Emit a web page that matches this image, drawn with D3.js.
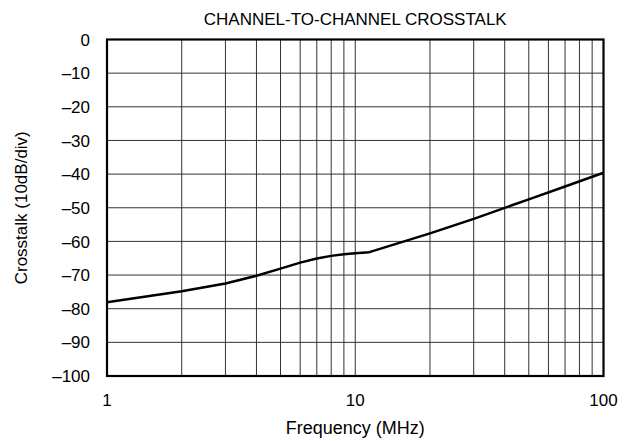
<!DOCTYPE html>
<html><head><meta charset="utf-8">
<script src="https://cdn.jsdelivr.net/npm/d3@7"></script>
<style>
body{margin:0;background:#fff;}
text{font-family:"Liberation Sans",Arial,sans-serif;fill:#000;}
</style></head>
<body><svg id="c" width="635" height="441"></svg>
<script>
const freqs = [1,2,3,4,5,6,7,8,9,10,11.4,20,30,50,70,100];
const crosstalk = [-78.1,-74.8,-72.5,-70.2,-68.1,-66.3,-65.1,-64.3,-63.8,-63.5,-63.2,-57.6,-53.3,-47.5,-43.7,-39.6];
const yTicks = [0,-10,-20,-30,-40,-50,-60,-70,-80,-90,-100];
const xTickLabels = [1,10,100];
const xGrid = [2,3,4,5,6,7,8,9,10,20,30,40,50,60,70,80,90];
const title = "CHANNEL-TO-CHANNEL CROSSTALK";
const xTitle = "Frequency (MHz)";
const yTitle = "Crosstalk (10dB/div)";

const L=107,R=603.5,T=39.5,B=376;
const svg=d3.select("#c");
const x=d3.scaleLog().domain([1,100]).range([L,R]);
const y=d3.scaleLinear().domain([-100,0]).range([B,T]);
const fs=17;

svg.append("g").selectAll("line").data(xGrid).join("line")
 .attr("x1",d=>x(d)).attr("x2",d=>x(d)).attr("y1",T).attr("y2",B)
 .attr("stroke","#333").attr("stroke-width",1);
svg.append("g").selectAll("line").data(yTicks.slice(1,-1)).join("line")
 .attr("x1",L).attr("x2",R).attr("y1",d=>y(d)).attr("y2",d=>y(d))
 .attr("stroke","#333").attr("stroke-width",1);
svg.append("rect").attr("x",L).attr("y",T).attr("width",R-L).attr("height",B-T)
 .attr("fill","none").attr("stroke","#000").attr("stroke-width",2.2);

const line=d3.line().x((d,i)=>x(freqs[i])).y(d=>y(d));
svg.append("path").datum(crosstalk).attr("d",line).attr("fill","none")
 .attr("stroke","#000").attr("stroke-width",2.5).attr("stroke-linejoin","round");

svg.append("g").selectAll("text").data(yTicks).join("text")
 .attr("x",90).attr("y",d=>y(d)).attr("dy","0.36em").attr("text-anchor","end")
 .attr("font-size",fs).text(d=>d<0?"\u2013"+(-d):d);
svg.append("g").selectAll("text").data(xTickLabels).join("text")
 .attr("x",d=>x(d)).attr("y",406).attr("text-anchor","middle")
 .attr("font-size",fs).text(d=>d);
svg.append("text").attr("x",(L+R)/2).attr("y",25).attr("text-anchor","middle").attr("font-size",fs).text(title);
svg.append("text").attr("x",(L+R)/2).attr("y",434).attr("text-anchor","middle").attr("font-size",18).text(xTitle);
svg.append("text").attr("transform",`translate(27,${(T+B)/2}) rotate(-90)`).attr("text-anchor","middle").attr("font-size",fs).text(yTitle);
</script></body></html>
